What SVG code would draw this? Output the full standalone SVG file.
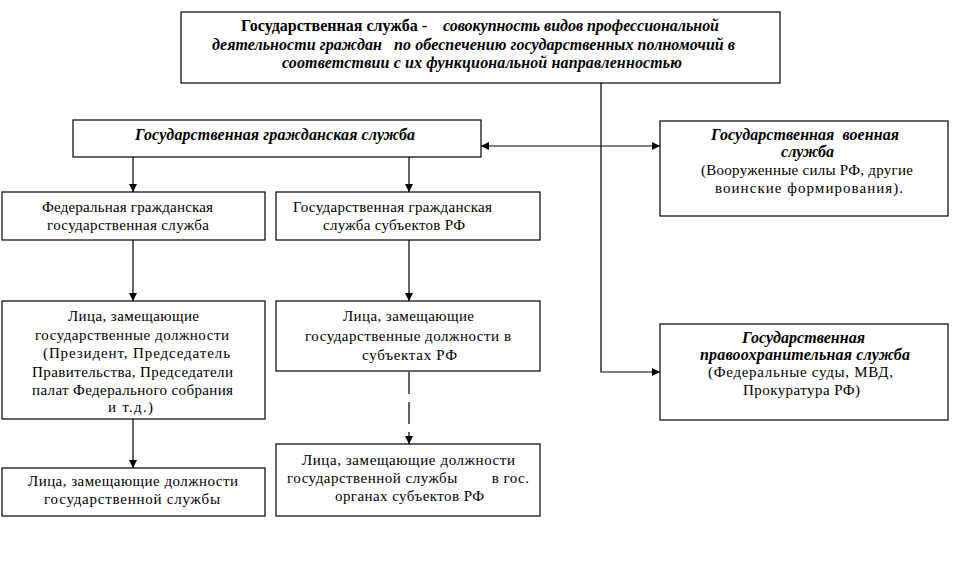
<svg xmlns="http://www.w3.org/2000/svg" width="962" height="577" viewBox="0 0 962 577" font-family="'Liberation Serif', 'Times New Roman', serif">
<defs>
<marker id="ah" viewBox="0 0 10 10" refX="10" refY="5" markerWidth="8" markerHeight="8" markerUnits="userSpaceOnUse" orient="auto-start-reverse">
<path d="M0,0 L10,5 L0,10 Z" fill="#000"/>
</marker>
<style>
.b{fill:#fff;stroke:#000;stroke-width:1.2}
text{font-family:'Liberation Serif','Times New Roman',serif;font-size:15px;fill:#000;white-space:pre}
.bi{font-weight:bold;font-style:italic;font-size:16px}
.bd{font-weight:bold;font-size:16px}
.c{fill:none;stroke:#000;stroke-width:1.2}
</style>
</defs>
<rect width="962" height="577" fill="#fff"/>
<g id="connectors">
<path class="c" d="M601,83 V372 H660" marker-end="url(#ah)"/>
<path class="c" d="M481,146 H660" marker-start="url(#ah)" marker-end="url(#ah)"/>
<path class="c" d="M133,157 V192" marker-end="url(#ah)"/>
<path class="c" d="M409,157 V192" marker-end="url(#ah)"/>
<path class="c" d="M133,240 V301" marker-end="url(#ah)"/>
<path class="c" d="M133,419 V468" marker-end="url(#ah)"/>
<path class="c" d="M409,240 V301" marker-end="url(#ah)"/>
<path class="c" d="M409,372 V444" stroke-dasharray="22,8" marker-end="url(#ah)"/>
</g>
<g id="top">
<rect class="b" x="181" y="12" width="599" height="71"/>
<text class="bd" x="241" y="31" textLength="186" xml:space="preserve">Государственная служба -</text>
<text class="bi" x="443" y="31" textLength="276" xml:space="preserve">совокупность видов профессиональной</text>
<text class="bi" x="212" y="49.5" textLength="523" xml:space="preserve">деятельности граждан   по обеспечению государственных полномочий в</text>
<text class="bi" x="282" y="68" textLength="400">соответствии с их функциональной направленностью</text>
</g>
<g id="civil">
<rect class="b" x="73" y="120" width="408" height="37"/>
<text class="bi" x="135" y="140" textLength="280">Государственная гражданская служба</text>
</g>
<g id="military">
<rect class="b" x="660" y="121" width="288" height="95"/>
<text class="bi" x="711" y="140" textLength="188" xml:space="preserve">Государственная  военная</text>
<text class="bi" x="781" y="157" textLength="53">служба</text>
<text x="701" y="175" textLength="212">(Вооруженные силы РФ, другие</text>
<text x="715" y="193" textLength="188">воинские формирования).</text>
</g>
<g id="federal">
<rect class="b" x="2" y="192" width="263" height="48"/>
<text x="42" y="212" textLength="171">Федеральная гражданская</text>
<text x="47" y="230" textLength="162">государственная служба</text>
</g>
<g id="subjects">
<rect class="b" x="276" y="192" width="264" height="48"/>
<text x="293" y="212" textLength="199">Государственная гражданская</text>
<text x="323" y="230" textLength="142">служба субъектов РФ</text>
</g>
<g id="fed-positions">
<rect class="b" x="2" y="301" width="263" height="118"/>
<text x="68" y="321" textLength="131">Лица, замещающие</text>
<text x="35" y="340" textLength="194">государственные должности</text>
<text x="43" y="358" textLength="187">(Президент, Председатель</text>
<text x="32" y="377" textLength="201">Правительства, Председатели</text>
<text x="32" y="395" textLength="201">палат Федерального собрания</text>
<text x="108" y="412" textLength="45">и т.д.)</text>
</g>
<g id="fed-service">
<rect class="b" x="2" y="468" width="263" height="48"/>
<text x="28" y="486" textLength="210">Лица, замещающие должности</text>
<text x="44" y="504" textLength="176">государственной службы</text>
</g>
<g id="subj-positions">
<rect class="b" x="276" y="301" width="264" height="70"/>
<text x="343" y="321" textLength="131">Лица, замещающие</text>
<text x="305" y="341" textLength="206">государственные должности в</text>
<text x="362" y="360" textLength="95">субъектах РФ</text>
</g>
<g id="subj-service">
<rect class="b" x="276" y="444" width="264" height="72"/>
<text x="302" y="465" textLength="213">Лица, замещающие должности</text>
<text x="287" y="483" textLength="242" xml:space="preserve">государственной службы        в гос.</text>
<text x="335" y="501" textLength="149">органах субъектов РФ</text>
</g>
<g id="law">
<rect class="b" x="660" y="324" width="288" height="96"/>
<text class="bi" x="742" y="343" textLength="123">Государственная</text>
<text class="bi" x="700" y="360" textLength="210">правоохранительная служба</text>
<text x="708" y="377" textLength="185">(Федеральные суды, МВД,</text>
<text x="743" y="395" textLength="117">Прокуратура РФ)</text>
</g>
</svg>
